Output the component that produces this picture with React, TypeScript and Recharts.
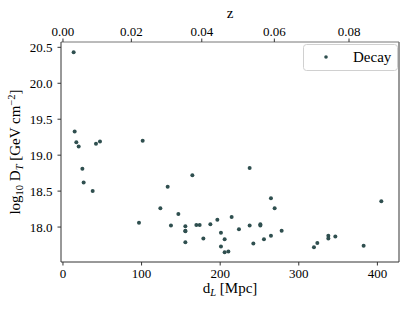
import { ScatterChart, Scatter, XAxis, YAxis, ReferenceLine } from 'recharts';

const FONT = '"Liberation Serif", "Times New Roman", serif';
const INK = '#2F4F4F';

// luminosity distance [Mpc]
const distances = [
  13.6, 14.9, 17.0, 20.0, 24.7, 26.3, 37.8, 42.0, 47.1, 101.4,
  96.7, 123.9, 133.2, 137.4, 146.8, 155.7, 155.7, 155.7, 155.7, 164.6,
  169.7, 173.9, 178.6, 187.5, 196.4, 201.0, 201.0, 205.7, 205.7, 210.4,
  214.6, 223.9, 237.5, 237.5, 242.2, 251.1, 251.1, 255.7, 264.6, 264.6,
  269.3, 278.2, 319.3, 323.6, 337.6, 337.6, 346.5, 382.5, 405.0,
];

// log10 D-factor
const logD = [
  20.43, 19.33, 19.18, 19.12, 18.81, 18.62, 18.5, 19.16, 19.19, 19.2,
  18.06, 18.26, 18.56, 18.02, 18.18, 18.01, 17.95, 17.94, 17.79, 18.72,
  18.03, 18.03, 17.84, 18.04, 18.1, 17.92, 17.73, 17.83, 17.65, 17.66,
  18.14, 17.97, 18.82, 18.02, 17.77, 18.04, 18.02, 17.83, 18.4, 17.88,
  18.26, 17.95, 17.72, 17.78, 17.88, 17.84, 17.87, 17.74, 18.36,
];

const dTicks = [0, 100, 200, 300, 400];
const yTicks = [18.0, 18.5, 19.0, 19.5, 20.0, 20.5];
// redshift ticks on the top axis and the distance each sits at
const zLabels = ['0.00', '0.02', '0.04', '0.06', '0.08'];
const zTickDistances = [0, 87.0, 176.6, 268.9, 363.9];

const X_DOMAIN: [number, number] = [-2.5, 427.5];
const Y_DOMAIN: [number, number] = [17.514, 20.574];

const points = distances.map((d, i) => ({ d, y: logD[i] }));

const Dot = (props: any) => <circle cx={props.cx} cy={props.cy} r={2} fill={INK} />;
const Nothing = () => <g />;

export default function App() {
  const tickStyle = { fill: '#000', fontSize: 13, fontFamily: FONT };
  return (
    <div style={{ position: 'absolute', left: 0, top: 0, width: 407, height: 309, background: '#fff' }}>
      <ScatterChart width={407} height={309} margin={{ top: 0, right: 8, bottom: 0, left: 0 }}>
        <XAxis
          xAxisId="bottom"
          dataKey="d"
          type="number"
          domain={X_DOMAIN}
          ticks={dTicks}
          allowDataOverflow
          height={47}
          tick={tickStyle}
          tickSize={3.5}
          tickMargin={3}
          stroke="#333"
          tickLine={{ stroke: '#333' }}
        />
        <XAxis
          xAxisId="top"
          orientation="top"
          dataKey="d"
          type="number"
          domain={X_DOMAIN}
          ticks={zTickDistances}
          tickFormatter={(v: number) => zLabels[zTickDistances.indexOf(v)] ?? ''}
          allowDataOverflow
          height={42}
          tick={tickStyle}
          tickSize={3.5}
          tickMargin={3}
          stroke="#777"
          tickLine={{ stroke: '#333' }}
        />
        <YAxis
          dataKey="y"
          type="number"
          domain={Y_DOMAIN}
          ticks={yTicks}
          allowDataOverflow
          width={61}
          tick={tickStyle}
          tickFormatter={(v: number) => v.toFixed(1)}
          tickSize={3.5}
          tickMargin={5}
          stroke="#333"
          tickLine={{ stroke: '#333' }}
        />
        <ReferenceLine xAxisId="bottom" x={X_DOMAIN[1]} stroke="#777" strokeWidth={1.5} />
        <Scatter xAxisId="top" data={points} shape={Nothing} isAnimationActive={false} legendType="none" />
        <Scatter xAxisId="bottom" name="Decay" data={points} fill={INK} shape={Dot} isAnimationActive={false} />
        {/* axis titles */}
        <text x={230} y={18} textAnchor="middle" fontFamily={FONT} fontSize={15}>z</text>
        <text x={230} y={293} textAnchor="middle" fontFamily={FONT} fontSize={15}>
          d<tspan fontSize={10.5} fontStyle="italic" dy={3}>L</tspan>
          <tspan dy={-3}> [Mpc]</tspan>
        </text>
        <text x={0} y={0} transform="translate(20,152) rotate(-90)" textAnchor="middle" fontFamily={FONT} fontSize={15}>
          log<tspan fontSize={10.5} dy={3}>10</tspan>
          <tspan dy={-3}> D</tspan>
          <tspan fontSize={10.5} fontStyle="italic" dy={3}>T</tspan>
          <tspan dy={-3}> [GeV cm</tspan>
          <tspan fontSize={10.5} dy={-5}>−2</tspan>
          <tspan dy={5}>]</tspan>
        </text>
      </ScatterChart>
      {/* legend box, upper right like matplotlib */}
      <svg width={96} height={28} style={{ position: 'absolute', left: 303, top: 44 }}>
        <rect x={0.5} y={0.5} width={94} height={26} rx={3} fill="rgba(255,255,255,0.8)" stroke="#d0d0d0" />
        <circle cx={23} cy={13} r={1.8} fill={INK} />
        <text x={50} y={18} fontFamily={FONT} fontSize={15} fill="#000">Decay</text>
      </svg>
    </div>
  );
}
